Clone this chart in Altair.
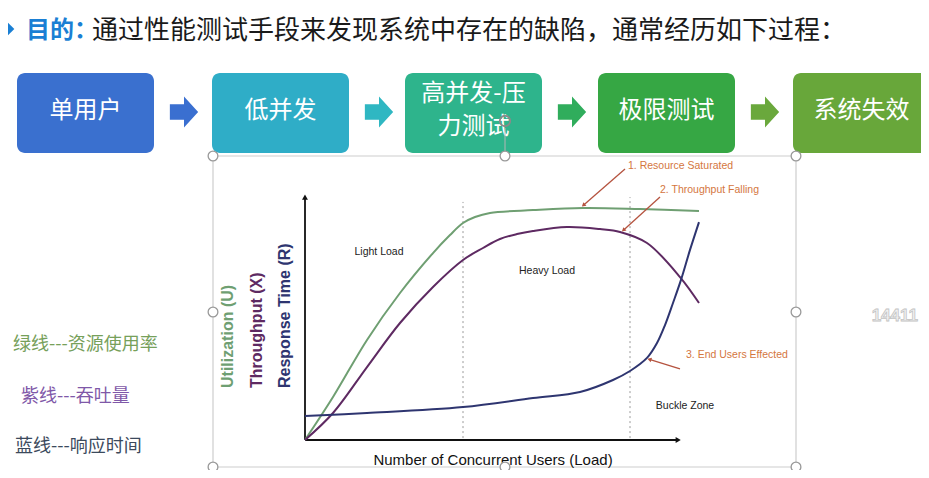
import altair as alt
import pandas as pd
import numpy as np

# ---------------- data ----------------
TITLE_HEAD = "目的："
TITLE_BODY = "通过性能测试手段来发现系统中存在的缺陷，通常经历如下过程："
STAGES = ["单用户", "低并发", "高并发-压|力测试", "极限测试", "系统失效"]
STAGE_COLORS = ["#3a70cf", "#2fadc7", "#2eb48c", "#36a744", "#68a73a"]
ARROW_COLORS = ["#3a6fd0", "#2fb7c2", "#30ad5c", "#6aa83c"]

SERIES = ["Utilization (U)", "Throughput (X)", "Response Time (R)"]
SERIES_COLORS = ["#6f9f72", "#5e2a62", "#2e3570"]
UTIL_X = [0, 7, 15.5, 23.75, 32, 36.25, 39.5, 42.5, 46.25, 57, 69.5, 83.75, 98.5]
UTIL_Y = [0, 17.9, 41.7, 61.25, 77.9, 85.4, 90.4, 92.9, 94.6, 95.8, 96.7, 96.25, 95.4]
THRU_X = [0, 7, 15.5, 23.75, 32, 39.5, 44.5, 48.75, 53, 57, 65.5, 73.75, 78.75, 85.5, 93.75, 98.5]
THRU_Y = [0, 11.25, 30.4, 48.75, 63.75, 75, 80, 83.75, 85.8, 87.1, 88.75, 87.9, 86.7, 82.1, 67.9, 57.1]
RESP_X = [0, 15.5, 39.5, 57, 68.75, 77, 81.25, 85.5, 88, 90, 92, 94, 96.25, 98.5]
RESP_Y = [10, 11.25, 13.75, 17.5, 20, 25, 28.75, 34.2, 40.4, 47.9, 57.1, 66.7, 79.2, 90.8]

ZONE_BOUNDS = [39.5, 81.25]
ZONES = ["Light Load", "Heavy Load", "Buckle Zone"]
NOTES = ["1. Resource Saturated", "2. Throughput Falling", "3. End Users Effected"]
X_TITLE = "Number of  Concurrent Users (Load)"
LEGEND_CN = ["绿线---资源使用率", "紫线---吞吐量", "蓝线---响应时间"]
LEGEND_CN_COLORS = ["#76a05a", "#7f58a8", "#3c4a5c"]
WATERMARK = "14411"

# ---------------- layout ----------------
OFF = 8
W, H = 929 - 2 * OFF, 478 - 2 * OFF


def P(v):
    return v - OFF


X0, X1, Y0, Y1 = 305, 705, 440, 200
KX, KY = (X1 - X0) / 100, (Y0 - Y1) / 100
XS = alt.Scale(domain=[0, 100], range=[P(X0), P(X1)], nice=False, zero=False)
YS = alt.Scale(domain=[0, 100], range=[P(Y0), P(Y1)], nice=False, zero=False)
CN = "Noto Sans CJK SC"
EN = "Liberation Sans"


def xy_px():
    return dict(x=alt.X("x:Q", scale=None, axis=None), y=alt.Y("y:Q", scale=None, axis=None))


def xy_data(xf="x", yf="y"):
    return dict(x=alt.X(f"{xf}:Q", scale=XS, axis=None), y=alt.Y(f"{yf}:Q", scale=YS, axis=None))


layers = []

# title
title_df = pd.DataFrame({"x": [P(26), P(92)], "y": [P(31), P(31)],
                         "text": [TITLE_HEAD, TITLE_BODY],
                         "color": ["#1a7fd4", "#1a1a1a"], "size": [24, 26]})
layers.append(alt.Chart(title_df.iloc[[0]]).mark_text(align="left", baseline="middle", font=CN, fontWeight="bold").encode(
    **xy_px(), text="text:N", color=alt.Color("color:N", scale=None), size=alt.Size("size:Q", scale=None)))
layers.append(alt.Chart(title_df.iloc[[1]]).mark_text(align="left", baseline="middle", font=CN).encode(
    **xy_px(), text="text:N", color=alt.Color("color:N", scale=None), size=alt.Size("size:Q", scale=None)))
layers.append(alt.Chart(pd.DataFrame({"x": [P(8)], "y": [P(29)]})).mark_point(
    shape="diamond", filled=True, color="#1a7fd4", size=160, opacity=1).encode(**xy_px()))

# stage boxes
BOX_L = [17, 212, 405, 598, 793]
BOX_W, BOX_T, BOX_B = 137, 73, 153
box_df = pd.DataFrame({"x": [P(l) for l in BOX_L], "x2": [P(l + BOX_W) for l in BOX_L],
                       "y": [P(BOX_T)] * 5, "y2": [P(BOX_B)] * 5, "color": STAGE_COLORS})
layers.append(alt.Chart(box_df).mark_rect(cornerRadius=8).encode(
    x=alt.X("x:Q", scale=None, axis=None), x2="x2:Q", y=alt.Y("y:Q", scale=None, axis=None), y2="y2:Q",
    color=alt.Color("color:N", scale=None)))
rows = []
for l, s in zip(BOX_L, STAGES):
    parts = s.split("|")
    cx = P(l + BOX_W / 2)
    if len(parts) == 1:
        rows.append((cx, P(111), parts[0]))
    else:
        rows.append((cx, P(94), parts[0]))
        rows.append((cx, P(127), parts[1]))
stage_txt = pd.DataFrame(rows, columns=["x", "y", "text"])
layers.append(alt.Chart(stage_txt).mark_text(align="center", baseline="middle", font=CN, fontSize=24, color="white").encode(
    **xy_px(), text="text:N"))

# block arrows between boxes
ARROW_PATH = "M-1,-0.55L0,-0.55L0,-1.1L1,0L0,1.1L0,0.55L-1,0.55Z"
arr_df = pd.DataFrame({"x": [P(l + BOX_W + 30) for l in BOX_L[:4]], "y": [P(112)] * 4, "color": ARROW_COLORS})
layers.append(alt.Chart(arr_df).mark_point(shape=ARROW_PATH, filled=True, size=800, opacity=1, strokeWidth=0).encode(
    **xy_px(), color=alt.Color("color:N", scale=None)))

# selection frame
layers.append(alt.Chart(pd.DataFrame({"a": [0]})).mark_rect(fillOpacity=0, stroke="#cdcdcd", strokeWidth=1.2).encode(
    x=alt.value(P(213)), x2=alt.value(P(796)), y=alt.value(P(156)), y2=alt.value(P(467))))
layers.append(alt.Chart(pd.DataFrame({"a": [0]})).mark_rule(color="#b5b5b5", strokeWidth=1).encode(
    x=alt.value(P(505)), y=alt.value(P(128)), y2=alt.value(P(153))))

# axes (data space)
axis_df = pd.DataFrame({"x": [0, 0], "y": [0, 0], "x2": [0, 93], "y2": [100.5, 0]})
layers.append(alt.Chart(axis_df).mark_rule(color="#111111", strokeWidth=1.8).encode(
    **xy_data(), x2="x2:Q", y2="y2:Q"))
layers.append(alt.Chart(pd.DataFrame({"x": [0], "y": [101.2]})).mark_point(
    shape="triangle-up", filled=True, color="#111111", size=35, opacity=1).encode(**xy_data()))
layers.append(alt.Chart(pd.DataFrame({"x": [93.3], "y": [0]})).mark_point(
    shape="triangle-right", filled=True, color="#111111", size=35, opacity=1).encode(**xy_data()))

# zone dividers
div_df = pd.DataFrame({"x": ZONE_BOUNDS, "y": [0.8, 0.8], "y2": [99.2, 101.2]})
layers.append(alt.Chart(div_df).mark_rule(color="#9a9a9a", strokeWidth=1, strokeDash=[2, 3]).encode(
    **xy_data(), y2="y2:Q"))

# curves
curve_df = pd.concat([
    pd.DataFrame({"load": UTIL_X, "value": UTIL_Y, "series": SERIES[0]}),
    pd.DataFrame({"load": THRU_X, "value": THRU_Y, "series": SERIES[1]}),
    pd.DataFrame({"load": RESP_X, "value": RESP_Y, "series": SERIES[2]}),
])
layers.append(alt.Chart(curve_df).mark_line(interpolate="catmull-rom", strokeWidth=2).encode(
    **xy_data("load", "value"),
    color=alt.Color("series:N", scale=alt.Scale(domain=SERIES, range=SERIES_COLORS), legend=None)))

# zone labels
zone_df = pd.DataFrame({"x": [18.5, 60.5, 95], "y": [78.3, 70.4, 14.2], "text": ZONES})
layers.append(alt.Chart(zone_df).mark_text(align="center", baseline="middle", font=EN, fontSize=10.5, color="#222222").encode(
    **xy_data(), text="text:N"))

# annotations
note_df = pd.DataFrame({"x": [80.75, 88.75, 95.25], "y": [114.2, 104.2, 35.4], "text": NOTES})
layers.append(alt.Chart(note_df).mark_text(align="left", baseline="middle", font=EN, fontSize=10.5, color="#d4763e").encode(
    **xy_data(), text="text:N"))
ann = pd.DataFrame({"x": [80, 88.75, 93.75], "y": [112.9, 101.25, 29.6],
                    "x2": [69.6, 79.6, 86.1], "y2": [97.8, 87.4, 33.6]})
layers.append(alt.Chart(ann).mark_rule(color="#b5533f", strokeWidth=1.3).encode(**xy_data(), x2="x2:Q", y2="y2:Q"))
ang = np.degrees(np.arctan2((ann.x2 - ann.x) * KX, (ann.y2 - ann.y) * KY)) % 360
head_df = pd.DataFrame({"x": ann.x2, "y": ann.y2, "angle": ang})
layers.append(alt.Chart(head_df).mark_point(shape="triangle-up", filled=True, color="#b5533f", size=22, opacity=1).encode(
    **xy_data(), angle=alt.Angle("angle:Q", scale=None)))

# y titles (rotated)
yt_df = pd.DataFrame({"x": [P(228), P(257), P(285)], "y": [P(388)] * 3, "text": SERIES, "color": SERIES_COLORS})
layers.append(alt.Chart(yt_df).mark_text(angle=270, align="left", baseline="middle", font=EN, fontSize=16, fontWeight="bold").encode(
    **xy_px(), text="text:N", color=alt.Color("color:N", scale=None)))
# x title
layers.append(alt.Chart(pd.DataFrame({"x": [P(493)], "y": [P(460)], "text": [X_TITLE]})).mark_text(
    align="center", baseline="middle", font=EN, fontSize=15, color="#111111").encode(**xy_px(), text="text:N"))

# handles
HX = [213, 505, 796, 213, 796, 213, 505, 796]
HY = [156, 156, 156, 312, 312, 467, 467, 467]
hd = pd.DataFrame({"x": [P(v) for v in HX], "y": [P(v) for v in HY]})
layers.append(alt.Chart(hd).mark_point(shape="circle", filled=True, fill="white", stroke="#999999", strokeWidth=1.3,
                                       size=95, opacity=1).encode(**xy_px()))
layers.append(alt.Chart(pd.DataFrame({"x": [P(505)], "y": [P(121)]})).mark_point(
    shape="circle", filled=False, color="#8a8a8a", strokeWidth=1.8, size=110, opacity=1).encode(**xy_px()))

# left Chinese legend
leg_df = pd.DataFrame({"x": [P(13), P(21), P(15)], "y": [P(345), P(397), P(447)], "text": LEGEND_CN, "color": LEGEND_CN_COLORS})
layers.append(alt.Chart(leg_df).mark_text(align="left", baseline="middle", font=CN, fontSize=18).encode(
    **xy_px(), text="text:N", color=alt.Color("color:N", scale=None)))

# watermark (kept fully inside the page)
layers.append(alt.Chart(pd.DataFrame({"x": [P(918)], "y": [P(316)], "text": [WATERMARK]})).mark_text(
    align="right", baseline="middle", font=EN, fontSize=17, fontWeight="bold", fill="#f2f2f2", stroke="#c4c4c4",
    strokeWidth=0.8).encode(**xy_px(), text="text:N"))

chart = alt.layer(*layers).resolve_scale(x="independent", y="independent", color="independent").properties(
    width=W, height=H, padding=0, autosize=alt.AutoSizeParams(type="none"), background="white"
).configure_view(stroke=None)

chart.save("out.html", embed_options={"renderer": "svg", "actions": False})
